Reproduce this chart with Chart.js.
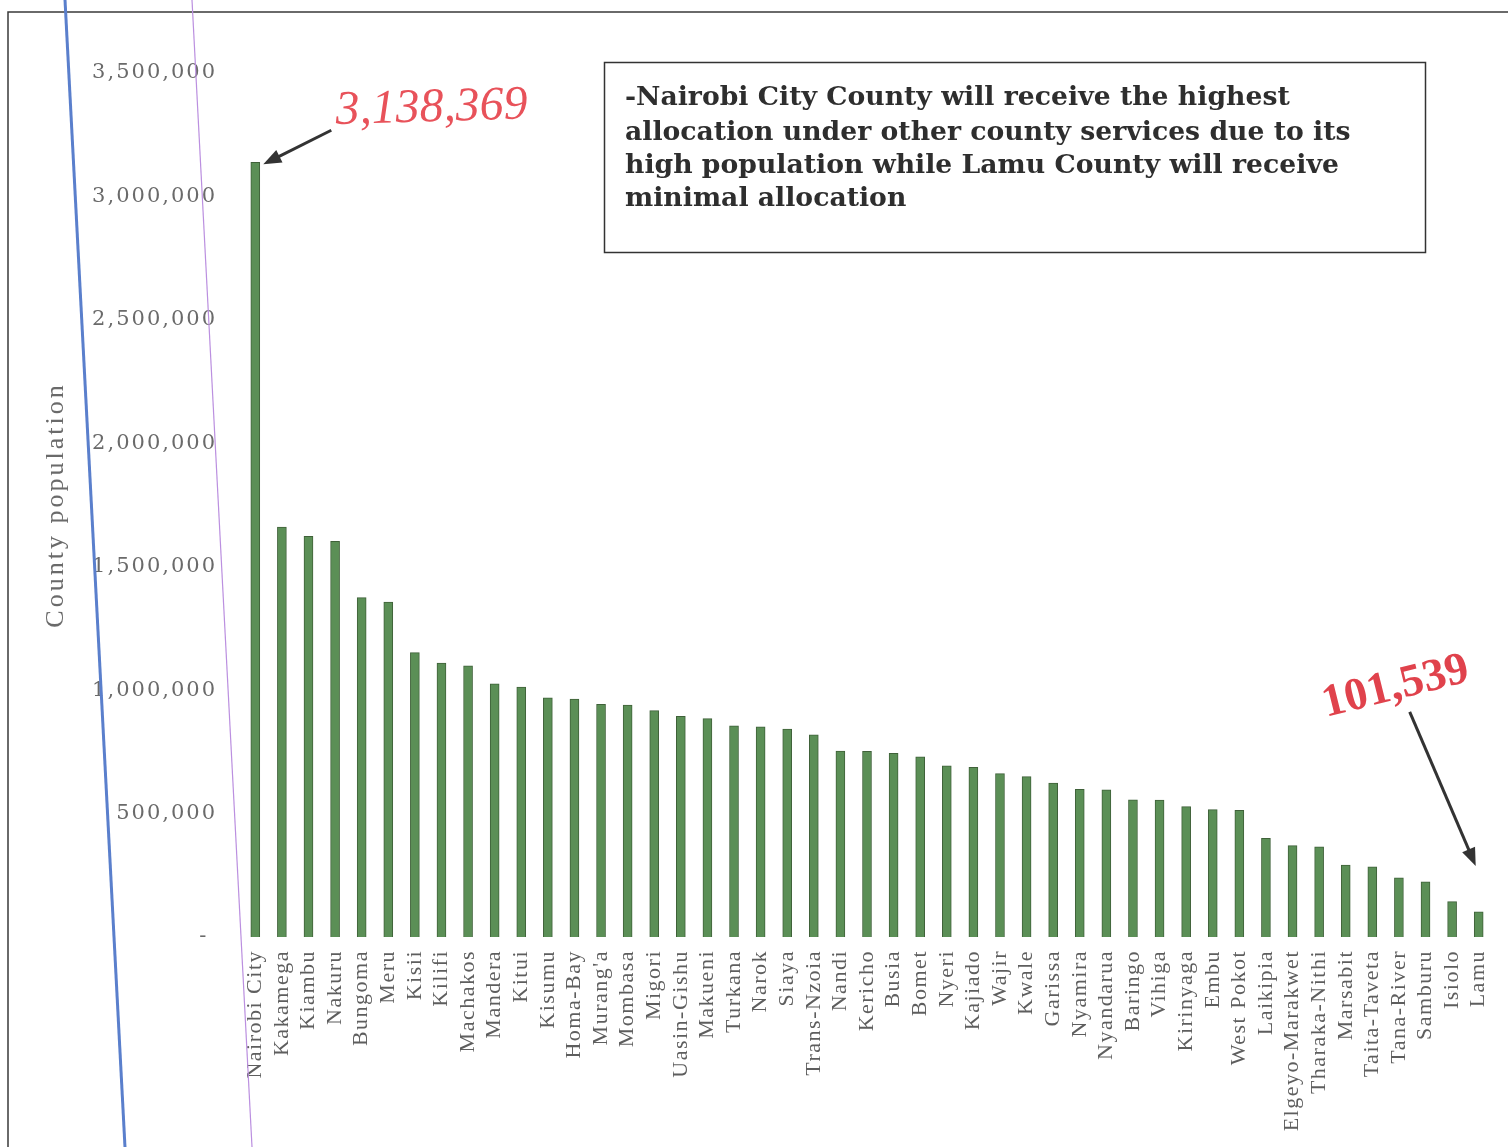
<!DOCTYPE html>
<html>
<head>
<meta charset="utf-8">
<script src="https://cdn.jsdelivr.net/npm/chart.js@4.4.1/dist/chart.umd.min.js"></script>
<style>
  html, body { margin: 0; padding: 0; background: #fff; }
  #wrap { position: relative; width: 1508px; height: 1147px; }
  canvas { display: block; }
</style>
</head>
<body>
<div id="wrap"><canvas id="c" width="1508" height="1147"></canvas></div>
<script>
// ---- Data (Kenya county population) ----
const counties = [
  "Nairobi City","Kakamega","Kiambu","Nakuru","Bungoma","Meru","Kisii","Kilifi",
  "Machakos","Mandera","Kitui","Kisumu","Homa-Bay","Murang'a","Mombasa","Migori",
  "Uasin-Gishu","Makueni","Turkana","Narok","Siaya","Trans-Nzoia","Nandi","Kericho",
  "Busia","Bomet","Nyeri","Kajiado","Wajir","Kwale","Garissa","Nyamira",
  "Nyandarua","Baringo","Vihiga","Kirinyaga","Embu","West Pokot","Laikipia",
  "Elgeyo-Marakwet","Tharaka-Nithi","Marsabit","Taita-Taveta","Tana-River",
  "Samburu","Isiolo","Lamu"
];
const population = [
  3138369,1660651,1623282,1603325,1375063,1356301,1152282,1109735,
  1098584,1025756,1012709,968909,963794,942581,939370,917170,
  894179,884527,855399,850920,842304,818757,752965,752396,
  743946,730129,693558,687312,661941,649931,623060,598252,
  596268,555561,554622,528054,516212,512690,399227,
  369998,365330,291166,284657,240075,
  223947,143294,101539
];
const yTicks = [0,500000,1000000,1500000,2000000,2500000,3000000,3500000];
const yAxisTitle = "County population";
const highLabel = "3,138,369";
const lowLabel = "101,539";
const noteLines = [
  "-Nairobi City County will receive the highest",
  "allocation under other county services due to its",
  "high population while Lamu County will receive",
  "minimal allocation"
];

// ---- Plugins ----
const spacingPlugin = {
  id: 'spacing',
  afterLayout(chart) {
    const wrap = (scale, method, sp) => {
      if (scale['_wr_' + method]) return;
      const orig = scale[method];
      scale[method] = function (...a) {
        const c = this.ctx;
        const prev = c.letterSpacing;
        c.letterSpacing = sp;
        orig.apply(this, a);
        c.letterSpacing = prev || '0px';
      };
      scale['_wr_' + method] = true;
    };
    wrap(chart.scales.x, 'drawLabels', '1.5px');
    wrap(chart.scales.y, 'drawLabels', '2px');
    wrap(chart.scales.y, 'drawTitle', '3px');
  }
};

function arrow(ctx, x1, y1, x2, y2, color, w) {
  const ang = Math.atan2(y2 - y1, x2 - x1);
  const L = 18, W = 7;
  ctx.save();
  ctx.strokeStyle = color; ctx.fillStyle = color; ctx.lineWidth = w;
  ctx.beginPath();
  ctx.moveTo(x1, y1);
  ctx.lineTo(x2 - Math.cos(ang) * L * 0.8, y2 - Math.sin(ang) * L * 0.8);
  ctx.stroke();
  ctx.beginPath();
  ctx.moveTo(x2, y2);
  ctx.lineTo(x2 - Math.cos(ang) * L + Math.sin(ang) * W, y2 - Math.sin(ang) * L - Math.cos(ang) * W);
  ctx.lineTo(x2 - Math.cos(ang) * L - Math.sin(ang) * W, y2 - Math.sin(ang) * L + Math.cos(ang) * W);
  ctx.closePath();
  ctx.fill();
  ctx.restore();
}

const decoPlugin = {
  id: 'deco',
  afterDraw(chart) {
    const ctx = chart.ctx;
    const xs = chart.scales.x, ys = chart.scales.y;
    ctx.save();
    ctx.letterSpacing = '0px';

    // page frame
    ctx.strokeStyle = '#3a3a3a'; ctx.lineWidth = 1.5;
    ctx.beginPath();
    ctx.moveTo(8, 1147); ctx.lineTo(8, 12); ctx.lineTo(1508, 12);
    ctx.stroke();

    // note box
    ctx.strokeStyle = '#333'; ctx.lineWidth = 1.5;
    ctx.strokeRect(604.5, 62.5, 821, 190);
    ctx.fillStyle = '#2e2e2e';
    ctx.textAlign = 'left'; ctx.textBaseline = 'alphabetic';
    let fs = 30;
    ctx.font = 'bold ' + fs + 'px "DejaVu Serif"';
    const target = 665;
    fs = fs * target / ctx.measureText(noteLines[0]).width;
    ctx.font = 'bold ' + fs.toFixed(2) + 'px "DejaVu Serif"';
    const base = [105, 140, 173, 206];
    noteLines.forEach((t, i) => ctx.fillText(t, 625, base[i]));

    // high annotation
    const hx = xs.getPixelForValue(0) + 8, hy = ys.getPixelForValue(population[0]) + 2;
    arrow(ctx, hx + 68, hy - 34, hx, hy, '#333', 3);
    ctx.save();
    ctx.translate(336, 124);
    ctx.rotate(-0.03);
    ctx.fillStyle = '#e8525a';
    ctx.font = 'italic 48px "Liberation Serif"';
    ctx.fillText(highLabel, 0, 0);
    ctx.restore();

    // low annotation
    const li = population.length - 1;
    const lx = xs.getPixelForValue(li) - 3, ly = ys.getPixelForValue(population[li]) - 46;
    arrow(ctx, lx - 66, ly - 154, lx, ly, '#333', 3);
    ctx.save();
    ctx.translate(1326, 717);
    ctx.rotate(-0.245);
    ctx.fillStyle = '#e0424c';
    ctx.font = 'bold 46px "Liberation Serif"';
    ctx.fillText(lowLabel, 0, 0);
    ctx.restore();

    // scan margin lines
    ctx.strokeStyle = '#5a7fcc'; ctx.lineWidth = 3;
    ctx.beginPath(); ctx.moveTo(65, 0); ctx.lineTo(125, 1147); ctx.stroke();
    ctx.strokeStyle = '#bb8fe0'; ctx.lineWidth = 1.2;
    ctx.beginPath(); ctx.moveTo(192, 0); ctx.lineTo(252, 1147); ctx.stroke();
    ctx.restore();
  }
};

const ctx = document.getElementById('c').getContext('2d');
new Chart(ctx, {
  type: 'bar',
  data: {
    labels: counties,
    datasets: [{
      data: population,
      backgroundColor: '#5b8f56',
      borderColor: '#3f6139',
      borderWidth: 1,
      barThickness: 9
    }]
  },
  options: {
    responsive: false,
    animation: false,
    events: [],
    layout: { padding: { top: 73, right: 16, left: 0, bottom: 0 } },
    plugins: { legend: { display: false }, tooltip: { enabled: false } },
    scales: {
      x: {
        offset: true,
        grid: { display: false, drawTicks: false },
        border: { display: false },
        ticks: {
          autoSkip: false,
          minRotation: 90, maxRotation: 90,
          padding: 13,
          color: '#5e5e5e',
          font: { family: '"Liberation Serif"', size: 22 }
        },
        afterFit(s) { s.height = 210; s.paddingLeft = 0; s.paddingRight = 0; }
      },
      y: {
        min: 0, max: 3500000,
        grid: { display: false, drawTicks: false },
        border: { display: false },
        afterBuildTicks(s) { s.ticks = yTicks.map(v => ({ value: v })); },
        ticks: {
          padding: 25,
          color: '#6a6a6a',
          font: { family: '"DejaVu Serif"', size: 21 },
          callback: v => v === 0 ? '- ' : Number(v).toLocaleString('en-US')
        },
        title: {
          display: true,
          text: yAxisTitle,
          color: '#6a6a6a',
          font: { family: '"Liberation Serif"', size: 26 },
          padding: { top: 41, bottom: 0 }
        },
        afterFit(s) { s.width = 242; s.paddingTop = 0; s.paddingBottom = 0; }
      }
    }
  },
  plugins: [spacingPlugin, decoPlugin]
});
</script>
</body>
</html>
